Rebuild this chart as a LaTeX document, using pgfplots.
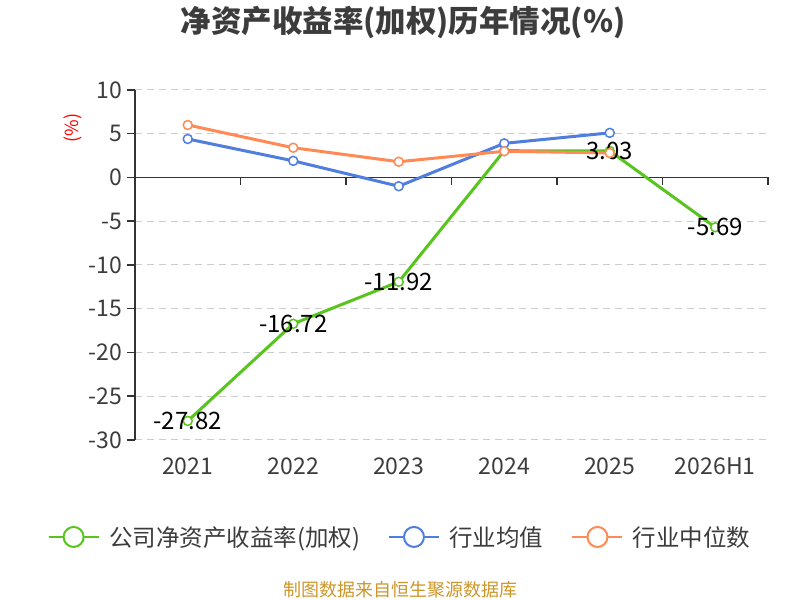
\documentclass[border=0pt]{standalone}
\usepackage{pgfplots}
\pgfplotsset{compat=1.18}
\usepackage{fontspec}
\setmainfont{Noto Sans CJK SC}
\definecolor{cgreen}{RGB}{88,196,30}
\definecolor{cblue}{RGB}{80,126,224}
\definecolor{corange}{RGB}{255,138,86}
\definecolor{ctext}{RGB}{60,60,60}
\definecolor{caxis}{RGB}{51,51,51}
\definecolor{cgrid}{RGB}{204,204,204}
\definecolor{cgold}{RGB}{204,150,40}
\begin{document}
\begin{tikzpicture}[x=1bp,y=1bp]
\path[use as bounding box] (0,0) rectangle (800,600);
\node[font=\fontsize{30.5bp}{34bp}\selectfont\bfseries, text=ctext] at (403,577) {净资产收益率(加权)历年情况(\%)};
\node[font=\fontsize{18bp}{21bp}\selectfont, text=red, rotate=90] at (73,472) {(\%)};
\node[font=\fontsize{18bp}{21bp}\selectfont, text=cgold] at (400,10) {制图数据来自恒生聚源数据库};
\begin{axis}[
  at={(135bp,160bp)}, anchor=south west,
  width=633bp, height=350bp, scale only axis,
  xmin=-0.5, xmax=5.5, ymin=-30, ymax=10,
  xtick={0,1,2,3,4,5},
  xticklabels={2021,2022,2023,2024,2025,2026H1},
  ytick={-30,-25,-20,-15,-10,-5,0,5,10},
  axis line style={draw=none},
  ytick pos=left,
  xtick style={draw=none},
  ytick style={caxis, line width=1.5bp},
  tick align=outside,
  major tick length=8bp,
  ymajorgrids,
  major grid style={cgrid, line width=1bp, dash pattern=on 7bp off 5bp},
  /pgf/number format/assume math mode=true,
  tick label style={font=\fontsize{23bp}{27bp}\selectfont, text=ctext},
  x tick label style={yshift=-6bp},
  y tick label style={xshift=-1bp},
  clip=false,
  legend columns=3,
  legend style={at={(rel axis cs:0.4187,-0.277)}, anchor=center, draw=none, fill=none,
    font=\fontsize{23.5bp}{27bp}\selectfont, text=ctext,
    /tikz/every even column/.append style={column sep=26bp}},
  legend image code/.code={%
    \draw[#1, line width=2bp] (0bp,0bp) -- (50bp,0bp);
    \draw[#1, line width=2bp, fill=white] (25bp,0bp) circle (10bp);
    \path (57bp,0bp);},
  every axis plot/.append style={line width=3bp, mark size=4.5bp},
]
\draw[caxis, line width=1.5bp] (axis cs:-0.5,-30) -- (axis cs:-0.5,10);
\draw[caxis, line width=1.5bp] (axis cs:-0.5,0) -- (axis cs:5.5,0);
\pgfplotsinvokeforeach{-0.5,0.5,1.5,2.5,3.5,4.5,5.5}{
  \draw[caxis, line width=1.5bp] (axis cs:#1,0) -- ([yshift=-8bp]axis cs:#1,0);
}
\addplot[cgreen, mark=*, mark options={fill=white, draw=cgreen, line width=1.5bp, solid},
  point meta=explicit symbolic,
  nodes near coords,
  nodes near coords style={anchor=center, text=black, font=\fontsize{24bp}{28bp}\selectfont}]
  coordinates {(0,-27.82) [-27.82] (1,-16.72) [-16.72] (2,-11.92) [-11.92] (3,3.06) [] (4,3.03) [3.03] (5,-5.69) [-5.69]};
\addlegendentry{公司净资产收益率(加权)}
\addplot[cblue, mark=*, mark options={fill=white, draw=cblue, line width=1.5bp, solid}]
  coordinates {(0,4.4) (1,1.9) (2,-1.0) (3,3.9) (4,5.1)};
\addlegendentry{行业均值}
\addplot[corange, mark=*, mark options={fill=white, draw=corange, line width=1.5bp, solid}]
  coordinates {(0,6.0) (1,3.4) (2,1.8) (3,3.0) (4,2.8)};
\addlegendentry{行业中位数}
\end{axis}
\end{tikzpicture}
\end{document}
